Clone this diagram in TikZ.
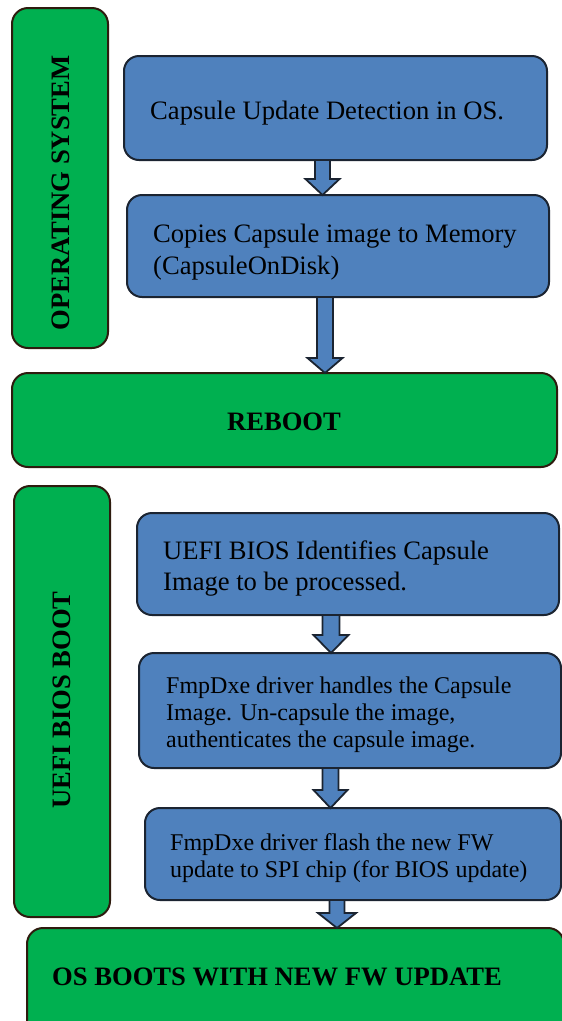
\documentclass[tikz,border=0pt]{standalone}
\usepackage{fontspec}
\setmainfont{Liberation Serif}
\usetikzlibrary{calc}

\definecolor{stepblue}{HTML}{4F81BD}
\definecolor{phasegreen}{HTML}{00B050}
\definecolor{blueedge}{HTML}{1B2431}
\definecolor{greenedge}{HTML}{2E1B0E}

\tikzset{
  stepbox/.style={draw=blueedge, fill=stepblue, line width=2pt,
    rounded corners=15pt, inner sep=0pt, outer sep=0pt},
  phasebox/.style={draw=greenedge, fill=phasegreen, line width=2pt,
    rounded corners=16pt, inner sep=0pt, outer sep=0pt},
  steptext/.style={anchor=base west, inner sep=0pt,
    font=\fontsize{26.6}{32}\selectfont},
  smalltext/.style={anchor=base west, inner sep=0pt,
    font=\fontsize{24}{27.5}\selectfont},
  phasetext/.style={inner sep=0pt,
    font=\fontsize{26.6}{32}\selectfont\bfseries},
  flow/.style={draw=blueedge, fill=stepblue, line width=1.8pt, line join=miter},
}

% block arrow from the bottom of one node to the top of the next,
% centred on the given x: #1 from, #2 to, #3 x, #4 shaft half width,
% #5 head half width, #6 head length
\newcommand\flowarrow[6]{%
  \draw[flow] let \p1=(#1), \p2=(#2) in
    (#3pt-#4pt,\y1) -- (#3pt+#4pt,\y1) -- (#3pt+#4pt,\y2+#6pt)
    -- (#3pt+#5pt,\y2+#6pt) -- (#3pt,\y2) -- (#3pt-#5pt,\y2+#6pt)
    -- (#3pt-#4pt,\y2+#6pt) -- cycle;}

\begin{document}
\begin{tikzpicture}[x=1pt,y=-1pt]
\clip (0,0) rectangle (562,1021);
\fill[white] (0,0) rectangle (562,1021);

% operating system phase
\node[phasebox, minimum width=96pt, minimum height=340pt] (os) at (60,178) {};
\node[phasetext, rotate=90] (oslabel) at (61,193) {OPERATING SYSTEM};

\node[stepbox, minimum width=423pt, minimum height=104pt] (detect) at (335.5,108) {};
\node[steptext] (detectA) at (150,119) {Capsule Update Detection in OS.};

\node[stepbox, minimum width=422pt, minimum height=102pt] (copy) at (338,246) {};
\node[steptext] (copyA) at (153,242) {Copies Capsule image to Memory};
\node[steptext] (copyB) at (153,274) {(CapsuleOnDisk)};

% reboot
\node[phasebox, minimum width=545pt, minimum height=94pt] (reboot) at (284.5,420) {};
\node[phasetext, anchor=base] (rebootlabel) at (284,430) {REBOOT};

% firmware phase
\node[phasebox, minimum width=96pt, minimum height=431pt] (uefi) at (62,701.5) {};
\node[phasetext, rotate=90] (uefilabel) at (62,700) {UEFI BIOS BOOT};

\node[stepbox, minimum width=422pt, minimum height=102pt] (identify) at (348,564) {};
\node[steptext] (identifyA) at (163,559) {UEFI BIOS Identifies Capsule};
\node[steptext] (identifyB) at (163,590) {Image to be processed.};

\node[stepbox, minimum width=422pt, minimum height=115pt] (handle) at (350,710.5) {};
\node[smalltext] (handleA) at (166,693.5) {FmpDxe driver handles the Capsule};
\node[smalltext] (handleB) at (166,720.5) {Image. Un-capsule the image,};
\node[smalltext] (handleC) at (166,747.5) {authenticates the capsule image.};

\node[stepbox, minimum width=416pt, minimum height=92pt] (flash) at (353,854) {};
\node[smalltext] (flashA) at (170,850) {FmpDxe driver flash the new FW};
\node[smalltext] (flashB) at (170,877.5) {update to SPI chip (for BIOS update)};

% final state
\node[phasebox, minimum width=537pt, minimum height=110pt] (final) at (295.5,983) {};
\node[phasetext, anchor=base west] (finallabel) at (52,985) {OS BOOTS WITH NEW FW UPDATE};

% connectors
\flowarrow{detect.south}{copy.north}{322.5}{7.5}{17}{16}
\flowarrow{copy.south}{reboot.north}{325}{8}{17.5}{15}
\flowarrow{identify.south}{handle.north}{331}{8.5}{17.5}{18}
\flowarrow{handle.south}{flash.north}{330.5}{8}{17}{18}
\flowarrow{flash.south}{final.north}{337}{7.5}{19}{15}
\end{tikzpicture}
\end{document}
